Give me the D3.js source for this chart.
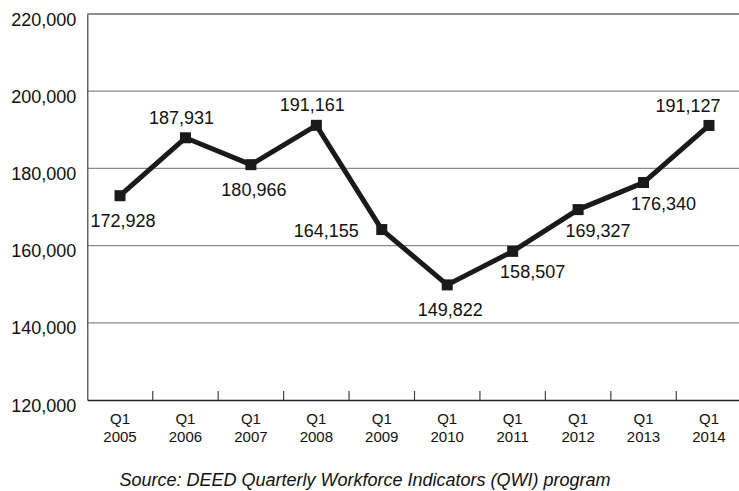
<!DOCTYPE html>
<html><head><meta charset="utf-8">
<script src="https://cdn.jsdelivr.net/npm/d3@7"></script>
<style>body{margin:0;background:#fff}svg{display:block;font-family:"Liberation Sans",Arial,sans-serif}</style>
</head><body><svg id="c" width="739" height="491"></svg>
<script>
const quarters = ["Q1","Q1","Q1","Q1","Q1","Q1","Q1","Q1","Q1","Q1"];
const years = ["2005","2006","2007","2008","2009","2010","2011","2012","2013","2014"];
const values = [172928,187931,180966,191161,164155,149822,158507,169327,176340,191127];
const yTicks = [120000,140000,160000,180000,200000,220000];
const source = "Source: DEED Quarterly Workforce Indicators (QWI) program";
// label placement per point (layout only)
const labelPlace = ["below","above","below","above","left","below","belowRight","belowRight","belowRight","aboveLeft"];

const svg = d3.select("#c");
const m = {l:87.3, r:741.7, t:14, b:400};
const x = d3.scaleBand().domain(years).range([m.l, m.r]);
const y = d3.scaleLinear().domain([120000,220000]).range([m.b, m.t]);
const fmt = d3.format(",");

// gridlines
svg.append("g").selectAll("line").data(yTicks.filter(d=>d>120000)).join("line")
  .attr("x1", m.l).attr("x2", m.r).attr("y1", d=>y(d)).attr("y2", d=>y(d))
  .attr("stroke", d=> d===220000 ? "#222" : "#8a8a8a").attr("stroke-width", 1.2);

// y axis
const ya = svg.append("g").attr("transform",`translate(${m.l},0)`)
  .call(d3.axisLeft(y).tickValues(yTicks).tickFormat(fmt).tickSize(0).tickPadding(11));
ya.select(".domain").attr("stroke","#444").attr("stroke-width",1.2);
ya.selectAll("text").attr("font-size",18).attr("fill","#111").attr("dy","0.62em")
  .attr("font-family","'Liberation Sans',Arial,sans-serif");

// x axis
const xa = svg.append("g").attr("transform",`translate(0,${m.b})`)
  .call(d3.axisBottom(x).tickSize(0).tickFormat(""));
xa.select(".domain").attr("stroke","#222").attr("stroke-width",1.4);
// boundary ticks (upward)
svg.append("g").selectAll("line").data(years.slice(1)).join("line")
  .attr("x1", d=>x(d)).attr("x2", d=>x(d)).attr("y1", m.b).attr("y2", m.b-9)
  .attr("stroke","#444").attr("stroke-width",1.2);
const cat = svg.append("g").attr("font-size",15).attr("fill","#111").attr("text-anchor","middle");
cat.selectAll("text.q").data(years).join("text").attr("class","q")
  .attr("x", d=>x(d)+x.bandwidth()/2).attr("y", 424).text((d,i)=>quarters[i]);
cat.selectAll("text.yr").data(years).join("text").attr("class","yr")
  .attr("x", d=>x(d)+x.bandwidth()/2).attr("y", 442).text(d=>d);

// line
const cx = (d,i)=> x(years[i]) + x.bandwidth()/2;
svg.append("path").datum(values)
  .attr("d", d3.line().x(cx).y(d=>y(d)))
  .attr("fill","none").attr("stroke","#1a1a1a").attr("stroke-width",5).attr("stroke-linejoin","miter");
svg.append("g").selectAll("rect").data(values).join("rect")
  .attr("x",(d,i)=>cx(d,i)-5.5).attr("y",d=>y(d)-5.5).attr("width",11).attr("height",11)
  .attr("fill","#1a1a1a");

// labels
const off = {below:[3,31,"middle"], above:[-4,-14,"middle"], left:[-23,7,"end"],
  belowRight:[20,27,"middle"], aboveLeft:[-21,-13.5,"middle"]};
svg.append("g").attr("font-size",18).attr("fill","#111").selectAll("text").data(values).join("text")
  .attr("x",(d,i)=>cx(d,i)+off[labelPlace[i]][0])
  .attr("y",(d,i)=>y(d)+off[labelPlace[i]][1])
  .attr("text-anchor",(d,i)=>off[labelPlace[i]][2])
  .text(d=>fmt(d));

svg.append("text").attr("x",365).attr("y",486).attr("text-anchor","middle")
  .attr("font-size",18).attr("font-style","italic").attr("fill","#111").text(source);
</script></body></html>
